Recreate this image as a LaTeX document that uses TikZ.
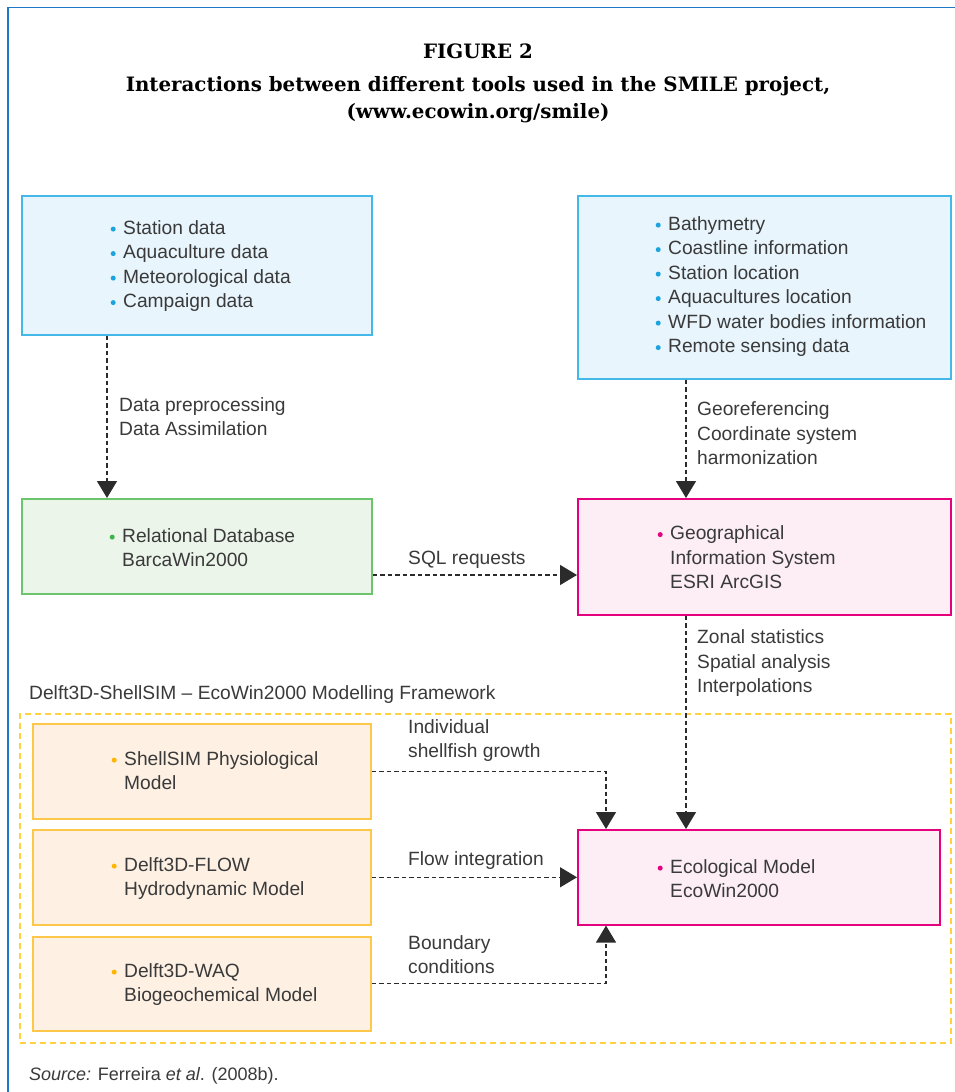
\documentclass[tikz,border=0pt]{standalone}
\usepackage{fontspec}
\setmainfont{Liberation Sans}
\newfontfamily\titlefont{DejaVu Serif}
\usetikzlibrary{arrows.meta}
\definecolor{framecol}{HTML}{1E78C8}
\definecolor{textcol}{HTML}{3A3A3A}
\definecolor{arrcol}{HTML}{2B2B2B}
\definecolor{cyanline}{HTML}{45B8EA}
\definecolor{cyanfill}{HTML}{E8F5FD}
\definecolor{cyandot}{HTML}{1AA3DF}
\definecolor{greenline}{HTML}{6CC46C}
\definecolor{greenfill}{HTML}{EBF5EA}
\definecolor{greendot}{HTML}{3CB44B}
\definecolor{magline}{HTML}{E5007D}
\definecolor{magfill}{HTML}{FCEEF4}
\definecolor{orline}{HTML}{FDC84A}
\definecolor{orfill}{HTML}{FEF1E4}
\definecolor{ordot}{HTML}{FFB400}
\definecolor{fwline}{HTML}{FFD23F}
\newcommand\bul[1]{\llap{\raisebox{2.4pt}{\tikz\fill[#1] (0,0) circle (2.5pt);}\hspace{7.5pt}}}
\begin{document}
\begin{tikzpicture}[x=1pt,y=-1pt,
  boxbase/.style={rectangle, inner sep=0pt, anchor=north west, line width=1.6pt},
  bluebox/.style={boxbase, draw=cyanline, fill=cyanfill},
  greenbox/.style={boxbase, draw=greenline, fill=greenfill},
  magbox/.style={boxbase, draw=magline, fill=magfill},
  orbox/.style={boxbase, draw=orline, fill=orfill},
  txt/.style={inner sep=0pt, anchor=base west, align=left, text=textcol,
    font=\fontsize{19.2}{24.5}\selectfont},
  ttl/.style={inner sep=0pt, anchor=base, text=black,
    font=\titlefont\bfseries\fontsize{19.8}{19.8}\selectfont},
  conn/.style={draw=arrcol, line width=1.3pt, dash pattern=on 4.5pt off 3pt,
    -{Triangle[width=20pt,length=17pt]}}]
\useasboundingbox (0,0) rectangle (955,1092);
\fill[white] (0,0) rectangle (955,1092);
\draw[framecol, line width=1.6pt] (8,1092) -- (8,7.5) -- (955,7.5);

% title
\node[ttl] (t1) at (478,58) {FIGURE 2};
\node[ttl] (t2) at (478,91) {Interactions between different tools used in the SMILE project,};
\node[ttl] (t3) at (478,118) {(www.ecowin.org/smile)};

% framework
\node[rectangle, draw=fwline, line width=1.5pt, dash pattern=on 6pt off 4pt,
  anchor=north west, inner sep=0pt, minimum width=931pt, minimum height=329pt] (fw) at (19,713) {};
\node[txt] (fwl) at (29,699.5) {Delft3D-ShellSIM -- EcoWin2000 Modelling Framework};

% boxes
\node[bluebox, minimum width=350pt, minimum height=139pt] (tl) at (21,195) {};
\node[bluebox, minimum width=373pt, minimum height=183pt] (tr) at (577,195) {};
\node[greenbox, minimum width=350pt, minimum height=95pt] (gr) at (21,498) {};
\node[magbox, minimum width=373pt, minimum height=116pt] (gis) at (577,498) {};
\node[orbox, minimum width=338pt, minimum height=95pt] (o1) at (32,723) {};
\node[orbox, minimum width=338pt, minimum height=95pt] (o2) at (32,829) {};
\node[orbox, minimum width=338pt, minimum height=94pt] (o3) at (32,936) {};
\node[magbox, minimum width=362pt, minimum height=95pt] (eco) at (577,829) {};

% box texts (base = baseline of last line)
\node[txt] (tlt) at (123,307.5) {\bul{cyandot}Station data\\\bul{cyandot}Aquaculture data\\\bul{cyandot}Meteorological data\\\bul{cyandot}Campaign data};
\node[txt] (trt) at (668,352.5) {\bul{cyandot}Bathymetry\\\bul{cyandot}Coastline information\\\bul{cyandot}Station location\\\bul{cyandot}Aquacultures location\\\bul{cyandot}WFD water bodies information\\\bul{cyandot}Remote sensing data};
\node[txt] (grt) at (122,566.5) {\bul{greendot}Relational Database\\ BarcaWin2000};
\node[txt] (gist) at (670,588.5) {\bul{magline}Geographical\\Information System\\ESRI ArcGIS};
\node[txt] (o1t) at (124,789.5) {\bul{ordot}ShellSIM Physiological\\Model};
\node[txt] (o2t) at (124,895.5) {\bul{ordot}Delft3D-FLOW\\Hydrodynamic Model};
\node[txt] (o3t) at (124,1001.5) {\bul{ordot}Delft3D-WAQ\\Biogeochemical Model};
\node[txt] (ecot) at (670,897.5) {\bul{magline}Ecological Model\\EcoWin2000};

% connector helper coordinates
\coordinate (xa) at (107,0);
\coordinate (xb) at (686,0);
\coordinate (xc) at (606,0);
\coordinate (ya) at (0,575);

% connectors
\draw[conn] (tl.south -| xa) -- (gr.north -| xa);
\draw[conn] (tr.south -| xb) -- (gis.north -| xb);
\draw[conn] (gr.east |- ya) -- (gis.west |- ya);
\draw[conn] (gis.south -| xb) -- (eco.north -| xb);
\draw[conn] (o1.east) -| (eco.north -| xc);
\draw[conn] (o2.east) -- (eco.west |- o2.east);
\draw[conn] (o3.east) -| (eco.south -| xc);

% connector labels
\node[txt] (l1) at (119,435.5) {Data preprocessing\\Data Assimilation};
\node[txt] (l2) at (697,464.5) {Georeferencing\\Coordinate system\\harmonization};
\node[txt] (l3) at (408,564.5) {SQL requests};
\node[txt] (l4) at (697,692.5) {Zonal statistics\\Spatial analysis\\Interpolations};
\node[txt] (l5) at (408,757.5) {Individual\\shellfish growth};
\node[txt] (l6) at (408,865.5) {Flow integration};
\node[txt] (l7) at (408,973.5) {Boundary\\conditions};

% source
\node[txt, font=\fontsize{18}{20}\selectfont] (src) at (29,1080) {\textit{Source:} Ferreira \textit{et al}. (2008b).};
\end{tikzpicture}
\end{document}
